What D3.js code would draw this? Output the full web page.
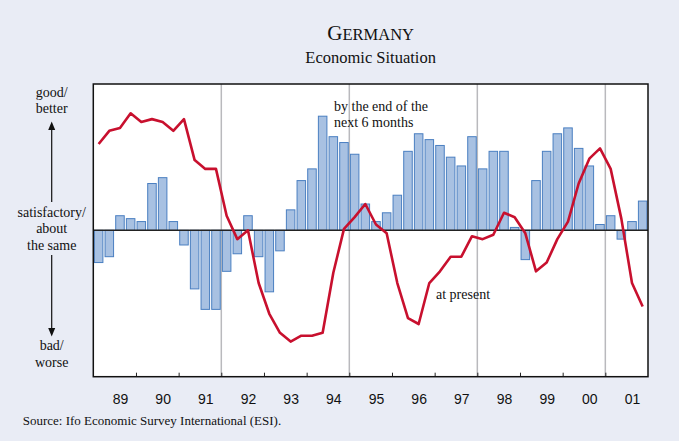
<!DOCTYPE html>
<html>
<head>
<meta charset="utf-8">
<script src="https://cdn.jsdelivr.net/npm/d3@7"></script>
<style>
  body { margin: 0; background: #e9ecf5; }
  svg { display: block; }
  .serif { font-family: "Liberation Serif", "Times New Roman", serif; fill: #111; }
  .axis text { font-family: "Liberation Sans", Arial, sans-serif; font-size: 14px; fill: #111; }
</style>
</head>
<body>
<div id="chart"></div>
<script>
// quarterly data 1989 Q1 - 2001 Q4, balances
let years = ['89', '90', '91', '92', '93', '94', '95', '96', '97', '98', '99', '00', '01']

let expectations = [
  -22, -18, 10, 8,   6, 32, 36, 6,   -10, -40, -54, -54,
  -28, -16, 10, -18,  -42, -14, 14, 34,   42, 78, 64, 60,
  52, 18, 6, 12,   24, 54, 66, 62,   58, 50, 44, 64,
  42, 54, 54, 2,   -20, 34, 54, 66,   70, 56, 44, 4,
  10, -6, 6, 20
]

let present = [
  59, 68, 70, 80,   74, 76, 74, 68,   76, 48, 42, 42,
  10, -6, 0, -36,   -57, -70, -76, -72,   -72, -70, -29, 1,
  9, 18, 4, -2,   -36, -60, -64, -36,   -28, -18, -18, -4,
  -6, -3, 12, 9,   -2, -28, -22, -6,   6, 32, 49, 56,
  42, 8, -36, -52
]

let quarters = []
years.forEach(y => { for (let q = 1; q <= 4; q++) quarters.push(y + 'Q' + q) })

let width = 679,
  height = 441

let svg = d3.select('#chart')
  .append('svg')
  .attr('width', width)
  .attr('height', height)

let plotLeft = 93.3, plotRight = 648, plotTop = 84, plotBottom = 376.7

let x = d3.scaleBand()
  .domain(quarters)
  .range([plotLeft, plotRight])
  .paddingInner(0.2)
  .paddingOuter(0.1)

let xYear = d3.scaleLinear()
  .domain([1989, 2002])
  .range([plotLeft, plotRight])

let y = d3.scaleLinear()
  .domain([-100, 100])
  .range([plotBottom, plotTop])

// plot area
svg.append('rect')
  .attr('x', plotLeft).attr('y', plotTop)
  .attr('width', plotRight - plotLeft).attr('height', plotBottom - plotTop)
  .attr('fill', '#fff')

// gray separators every three years
svg.selectAll('.sep')
  .data([1992, 1995, 1998, 2001])
  .enter().append('line')
  .attr('class', 'sep')
  .attr('x1', d => xYear(d)).attr('x2', d => xYear(d))
  .attr('y1', plotTop).attr('y2', plotBottom)
  .attr('stroke', '#b9b9bd')
  .attr('stroke-width', 1.5)

// bars: expectations for the next 6 months
svg.selectAll('.bar')
  .data(expectations)
  .enter().append('rect')
  .attr('class', 'bar')
  .attr('x', (d, i) => x(quarters[i]))
  .attr('width', x.bandwidth())
  .attr('y', d => y(Math.max(0, d)))
  .attr('height', d => Math.abs(y(d) - y(0)))
  .attr('fill', '#a8c1e2')
  .attr('stroke', '#4a7fc1')
  .attr('stroke-width', 1)

// zero line
svg.append('line')
  .attr('x1', plotLeft).attr('x2', plotRight)
  .attr('y1', y(0)).attr('y2', y(0))
  .attr('stroke', '#222')
  .attr('stroke-width', 1.5)

// line: present situation
let line = d3.line()
  .x((d, i) => x(quarters[i]) + x.bandwidth() / 2)
  .y(d => y(d))

svg.append('path')
  .datum(present)
  .attr('d', line)
  .attr('fill', 'none')
  .attr('stroke', '#c8102e')
  .attr('stroke-width', 2.6)
  .attr('stroke-linejoin', 'round')

// x axis: ticks at year boundaries, labels in mid-year
svg.append('g')
  .attr('class', 'axis')
  .attr('transform', 'translate(0,' + plotBottom + ')')
  .call(d3.axisBottom(xYear).tickValues(d3.range(1990, 2002)).tickSize(-4).tickFormat(''))
  .call(g => g.select('.domain').remove())
  .call(g => g.selectAll('.tick line').attr('stroke', '#222'))

svg.append('g')
  .attr('class', 'axis')
  .attr('transform', 'translate(0,' + plotBottom + ')')
  .call(d3.axisBottom(xYear)
    .tickValues(years.map((d, i) => 1989 + i + 0.625))
    .tickSize(0).tickPadding(17.5)
    .tickFormat((d, i) => years[i]))
  .call(g => g.select('.domain').remove())

// frame
svg.append('rect')
  .attr('x', plotLeft).attr('y', plotTop)
  .attr('width', plotRight - plotLeft).attr('height', plotBottom - plotTop)
  .attr('fill', 'none')
  .attr('stroke', '#111')
  .attr('stroke-width', 1.5)

// titles
let title = svg.append('text')
  .attr('class', 'serif')
  .attr('x', (plotLeft + plotRight) / 2).attr('y', 40)
  .attr('text-anchor', 'middle')
title.append('tspan').attr('font-size', 21).text('G')
title.append('tspan').attr('font-size', 16.5).text('ERMANY')

svg.append('text')
  .attr('class', 'serif')
  .attr('x', (plotLeft + plotRight) / 2).attr('y', 63.3)
  .attr('text-anchor', 'middle')
  .attr('font-size', 16.5)
  .text('Economic Situation')

// series labels
svg.append('text')
  .attr('class', 'serif')
  .attr('x', 334).attr('y', 110.7)
  .attr('font-size', 14)
  .text('by the end of the')
svg.append('text')
  .attr('class', 'serif')
  .attr('x', 334).attr('y', 126.7)
  .attr('font-size', 14)
  .text('next 6 months')
svg.append('text')
  .attr('class', 'serif')
  .attr('x', 436).attr('y', 299.3)
  .attr('font-size', 14)
  .text('at present')

// left scale description
let cx = 51.7
let leftLabels = [
  ['good/', 96.7], ['better', 113.3],
  ['satisfactory/', 216.7], ['about', 233.3], ['the same', 250],
  ['bad/', 350], ['worse', 366.7]
]
svg.selectAll('.side')
  .data(leftLabels)
  .enter().append('text')
  .attr('class', 'serif side')
  .attr('x', cx).attr('y', d => d[1])
  .attr('text-anchor', 'middle')
  .attr('font-size', 14)
  .text(d => d[0])

svg.append('line')
  .attr('x1', cx).attr('x2', cx).attr('y1', 202).attr('y2', 128)
  .attr('stroke', '#111').attr('stroke-width', 1.2)
svg.append('path')
  .attr('d', 'M' + (cx - 3.5) + ',130 L' + cx + ',121.5 L' + (cx + 3.5) + ',130 Z')
  .attr('fill', '#111')
svg.append('line')
  .attr('x1', cx).attr('x2', cx).attr('y1', 255).attr('y2', 330)
  .attr('stroke', '#111').attr('stroke-width', 1.2)
svg.append('path')
  .attr('d', 'M' + (cx - 3.5) + ',328 L' + cx + ',336.5 L' + (cx + 3.5) + ',328 Z')
  .attr('fill', '#111')

// source
svg.append('text')
  .attr('class', 'serif')
  .attr('x', 22.7).attr('y', 425)
  .attr('font-size', 13)
  .text('Source: Ifo Economic Survey International (ESI).')
</script>
</body>
</html>
